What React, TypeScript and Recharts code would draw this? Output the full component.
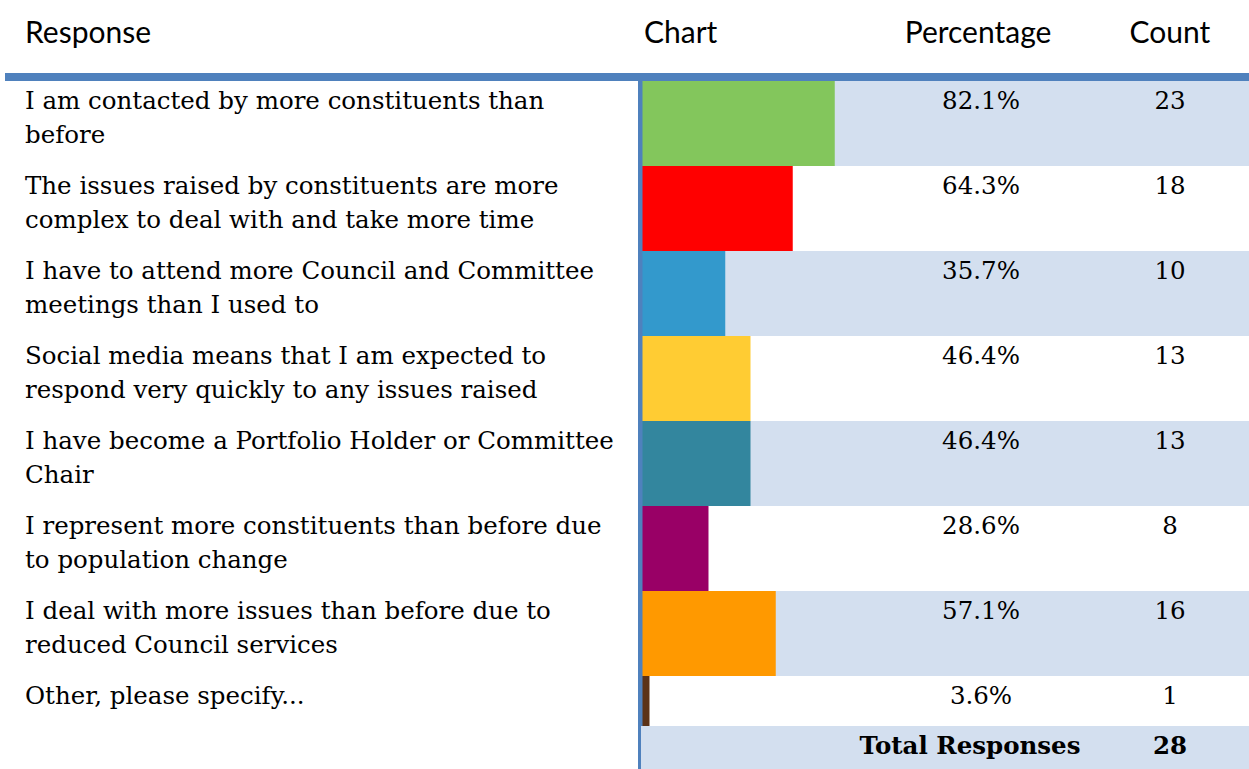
import { BarChart, Bar, XAxis, YAxis, Cell, LabelList } from "recharts";

const responses = [
  "I am contacted by more constituents than before",
  "The issues raised by constituents are more complex to deal with and take more time",
  "I have to attend more Council and Committee meetings than I used to",
  "Social media means that I am expected to respond very quickly to any issues raised",
  "I have become a Portfolio Holder or Committee Chair",
  "I represent more constituents than before due to population change",
  "I deal with more issues than before due to reduced Council services",
  "Other, please specify...",
];

// how each response wraps in the source table
const responseLines = [
  ["I am contacted by more constituents than", "before"],
  ["The issues raised by constituents are more", "complex to deal with and take more time"],
  ["I have to attend more Council and Committee", "meetings than I used to"],
  ["Social media means that I am expected to", "respond very quickly to any issues raised"],
  ["I have become a Portfolio Holder or Committee", "Chair"],
  ["I represent more constituents than before due", "to population change"],
  ["I deal with more issues than before due to", "reduced Council services"],
  ["Other, please specify..."],
];

const percentages = [82.1, 64.3, 35.7, 46.4, 46.4, 28.6, 57.1, 3.6];
const counts = [23, 18, 10, 13, 13, 8, 16, 1];
const totalResponses = 28;

const COLORS = [
  "#83C65C",
  "#FF0000",
  "#3399CC",
  "#FFCC33",
  "#33869E",
  "#990066",
  "#FF9900",
  "#5C3317",
];

const data = responses.map((r, i) => ({
  response: r,
  pct: percentages[i],
  count: counts[i],
}));

const W = 1249;
const H = 769;
const BODY_FONT = "'DejaVu Serif', serif";
const BODY_SIZE = 24.5;
const HEAD_FONT = "Lato, 'Open Sans', sans-serif";
const BAND = "#D3DFEF";
const LINE = "#4F81BD";

const ResponseTick = ({ y, payload }: any) => {
  const idx = responses.indexOf(payload.value);
  const lines = responseLines[idx] || [payload.value];
  const top = y - 42.5;
  return (
    <g>
      {lines.map((ln, i) => (
        <text
          key={i}
          x={25}
          y={top + 19 + i * 34}
          dominantBaseline="central"
          fontFamily={BODY_FONT}
          fontSize={BODY_SIZE}
          fill="#000"
        >
          {ln}
        </text>
      ))}
    </g>
  );
};

const RowBackground = (props: any) => {
  const { x, y, height, index } = props;
  return (
    <rect
      x={x}
      y={y}
      width={W - x}
      height={height}
      fill={index % 2 === 0 ? BAND : "#FFFFFF"}
    />
  );
};

const makeCell =
  (cx: number, suffix: string) =>
  ({ y, value }: any) =>
    (
      <text
        x={cx}
        y={y + 19}
        textAnchor="middle"
        dominantBaseline="central"
        fontFamily={BODY_FONT}
        fontSize={BODY_SIZE}
        fill="#000"
      >
        {value}
        {suffix}
      </text>
    );

export default function App() {
  return (
    <div
      style={{
        position: "absolute",
        left: 0,
        top: 0,
        width: W,
        height: H,
        background: "#fff",
        overflow: "hidden",
      }}
    >
      <BarChart
        width={W}
        height={H}
        data={data}
        layout="vertical"
        barCategoryGap={0}
        margin={{ top: 81, right: W - 641 - 236, bottom: 8, left: 0 }}
      >
        <XAxis type="number" domain={[0, 100]} hide />
        <YAxis
          type="category"
          dataKey="response"
          width={641}
          tickLine={false}
          axisLine={{ stroke: LINE, strokeWidth: 3 }}
          tick={<ResponseTick />}
          interval={0}
        />
        <Bar
          dataKey="pct"
          isAnimationActive={false}
          background={<RowBackground />}
        >
          {data.map((_, i) => (
            <Cell key={`c-${i}`} fill={COLORS[i]} />
          ))}
          <LabelList dataKey="pct" content={makeCell(981, "%")} />
          <LabelList dataKey="count" content={makeCell(1170, "")} />
        </Bar>
      </BarChart>

      {/* header row */}
      <div
        style={{
          position: "absolute",
          left: 0,
          top: 0,
          width: W,
          height: 73,
          fontFamily: HEAD_FONT,
          fontSize: 30,
          color: "#000",
          lineHeight: "36px",
        }}
      >
        <span style={{ position: "absolute", left: 25, top: 13 }}>Response</span>
        <span style={{ position: "absolute", left: 644, top: 13 }}>Chart</span>
        <span
          style={{
            position: "absolute",
            left: 878,
            width: 200,
            top: 13,
            textAlign: "center",
          }}
        >
          Percentage
        </span>
        <span
          style={{
            position: "absolute",
            left: 1070,
            width: 200,
            top: 13,
            textAlign: "center",
          }}
        >
          Count
        </span>
      </div>
      <div
        style={{
          position: "absolute",
          left: 5,
          top: 73,
          width: W - 5,
          height: 8,
          background: LINE,
        }}
      />
      {/* left border of the chart column */}
      <div
        style={{
          position: "absolute",
          left: 638,
          top: 81,
          width: 3,
          height: H - 81,
          background: LINE,
        }}
      />

      {/* total row */}
      <div
        style={{
          position: "absolute",
          left: 641,
          top: 726,
          width: W - 641,
          height: H - 726,
          background: BAND,
          fontFamily: BODY_FONT,
          fontSize: BODY_SIZE,
          fontWeight: "bold",
          color: "#000",
          lineHeight: "30px",
        }}
      >
        <span
          style={{
            position: "absolute",
            left: 970 - 641 - 150,
            width: 300,
            top: 5,
            textAlign: "center",
          }}
        >
          Total Responses
        </span>
        <span
          style={{
            position: "absolute",
            left: 1170 - 641 - 50,
            width: 100,
            top: 5,
            textAlign: "center",
          }}
        >
          {totalResponses}
        </span>
      </div>
    </div>
  );
}
